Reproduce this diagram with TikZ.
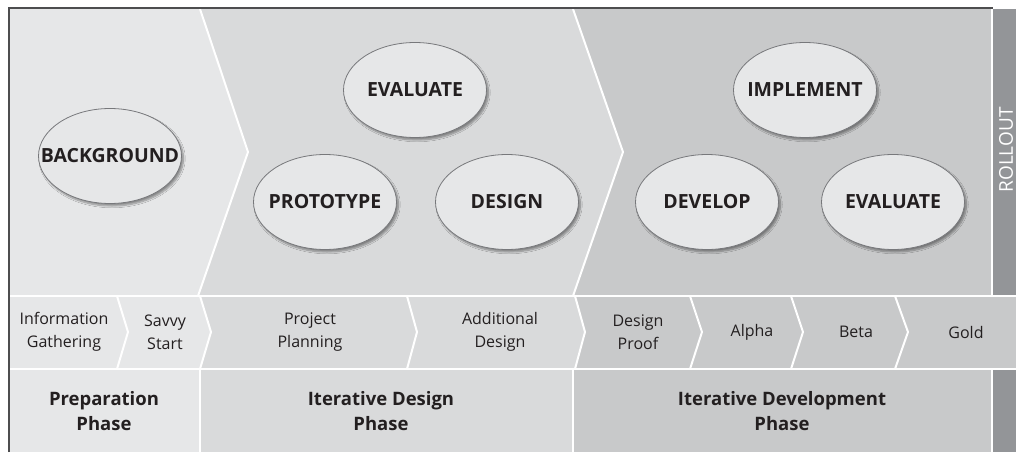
\documentclass[tikz,border=0pt]{standalone}
\usepackage{fontspec}
\setsansfont{Open Sans}
\definecolor{phaseA}{HTML}{E6E7E8}
\definecolor{phaseB}{HTML}{D9DADB}
\definecolor{phaseC}{HTML}{C8C9CA}
\definecolor{rollgray}{HTML}{939598}
\definecolor{framegray}{HTML}{4D4D4F}
\definecolor{ovalrim}{HTML}{77787B}
\definecolor{ink}{HTML}{231F20}
\usetikzlibrary{shapes.geometric,shadows.blur}

\begin{document}
\begin{tikzpicture}[
  x=1pt, y=-1pt,
  font=\sffamily,
  oval/.style={ellipse, draw=ovalrim, line width=0.8pt, fill=phaseA, inner sep=0pt,
    minimum width=143pt, minimum height=95pt,
    blur shadow={shadow xshift=2pt, shadow yshift=-2.5pt, shadow opacity=40, shadow blur steps=8},
    label={[ovaltext]center:#1}},
  ovaltext/.style={font=\sffamily\bfseries\fontsize{19.5}{22}\selectfont, text=ink},
  stage/.style={font=\sffamily\fontsize{16}{23}\selectfont, align=center, text=ink},
  phase/.style={font=\sffamily\bfseries\fontsize{18.5}{25}\selectfont, align=center, text=ink},
  divider/.style={draw=white, line width=2pt},
]
  \useasboundingbox (0,0) rectangle (1016,452);
  \clip (0,0) rectangle (1016,452);

  % top band with the two chevrons
  \fill[phaseC] (9,9) rectangle (991,296);
  \fill[phaseB] (9,9) -- (573,9) -- (623,152) -- (573,296) -- (9,296) -- cycle;
  \fill[phaseA] (9,9) -- (200,9) -- (248,152) -- (198,296) -- (9,296) -- cycle;
  \fill[rollgray] (993,9) rectangle (1016,296);
  \draw[divider] (200,9) -- (248,152) -- (198,296);
  \draw[divider] (573,9) -- (623,152) -- (573,296);
  \draw[divider] (992,9) -- (992,296);

  % row of steps
  \fill[phaseC] (9,296) rectangle (1016,369);
  \fill[phaseB] (9,296) -- (575,296) -- (585,332) -- (575,369) -- (9,369) -- cycle;
  \fill[phaseA] (9,296) -- (200,296) -- (211,332) -- (200,369) -- (9,369) -- cycle;
  \foreach \xa/\xb in {117/128, 200/211, 407/417, 575/585, 690/702, 791/803, 895/908}
    \draw[divider] (\xa,296) -- (\xb,332) -- (\xa,369);

  % row of phases
  \fill[phaseA] (9,369) rectangle (200,452);
  \fill[phaseB] (200,369) rectangle (573,452);
  \fill[phaseC] (573,369) rectangle (993,452);
  \fill[rollgray] (993,369) rectangle (1016,452);
  \draw[divider] (200,369) -- (200,452);
  \draw[divider] (573,369) -- (573,452);
  \draw[divider] (992,369) -- (992,452);
  \draw[divider] (9,296) -- (1016,296);
  \draw[divider] (9,369) -- (1016,369);

  \draw[framegray, line width=2pt] (9,452) -- (9,8) -- (993,8);

  \node[oval=BACKGROUND] (background) at (110,156) {};
  \node[oval=EVALUATE]   (evaluate)   at (415,90)  {};
  \node[oval=PROTOTYPE]  (prototype)  at (325,202) {};
  \node[oval=DESIGN]     (design)     at (507,202) {};
  \node[oval=IMPLEMENT]  (implement)  at (805,90)  {};
  \node[oval=DEVELOP]    (develop)    at (707,202) {};
  \node[oval=EVALUATE]   (evaluate2)  at (893,202) {};

  \node[rotate=90, text=white, font=\sffamily\fontsize{19}{20}\selectfont] (rollout) at (1006,150) {ROLLOUT};

  \node[stage] (info)   at (64,332)  {Information\\Gathering};
  \node[stage] (savvy)  at (165,332) {Savvy\\Start};
  \node[stage] (plan)   at (310,332) {Project\\Planning};
  \node[stage] (addl)   at (500,332) {Additional\\Design};
  \node[stage] (proof)  at (638,332) {Design\\Proof};
  \node[stage] (alpha)  at (752,332) {Alpha};
  \node[stage] (beta)   at (856,332) {Beta};
  \node[stage] (gold)   at (966,332) {Gold};

  \node[phase] (prep)    at (104,411) {Preparation\\Phase};
  \node[phase] (idesign) at (381,411) {Iterative Design\\Phase};
  \node[phase] (idev)    at (782,411) {Iterative Development\\Phase};
\end{tikzpicture}
\end{document}
